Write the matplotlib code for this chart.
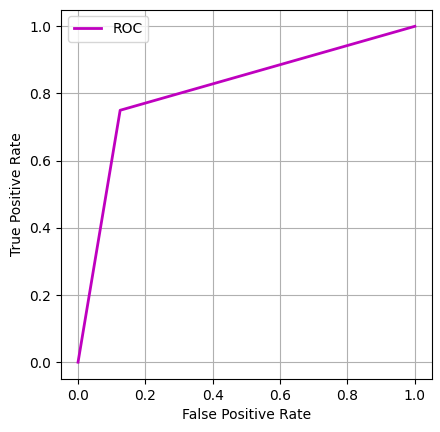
import matplotlib
matplotlib.use('Agg')
import matplotlib.pyplot as plt

# ROC curve points
fpr = [0.0, 0.125, 1.0]
tpr = [0.0, 0.75, 1.0]

fig = plt.figure(figsize=(4.4, 4.32), dpi=100)
ax = fig.add_axes([61.2 / 440, 53 / 432, 370.5 / 440, 369.5 / 432])

ax.plot(fpr, tpr, color='m', linewidth=2, label='ROC')
ax.set_xlabel('False Positive Rate')
ax.set_ylabel('True Positive Rate')
ax.legend(loc='upper left')
ax.grid(True)

fig.savefig('out.png', dpi=100)
